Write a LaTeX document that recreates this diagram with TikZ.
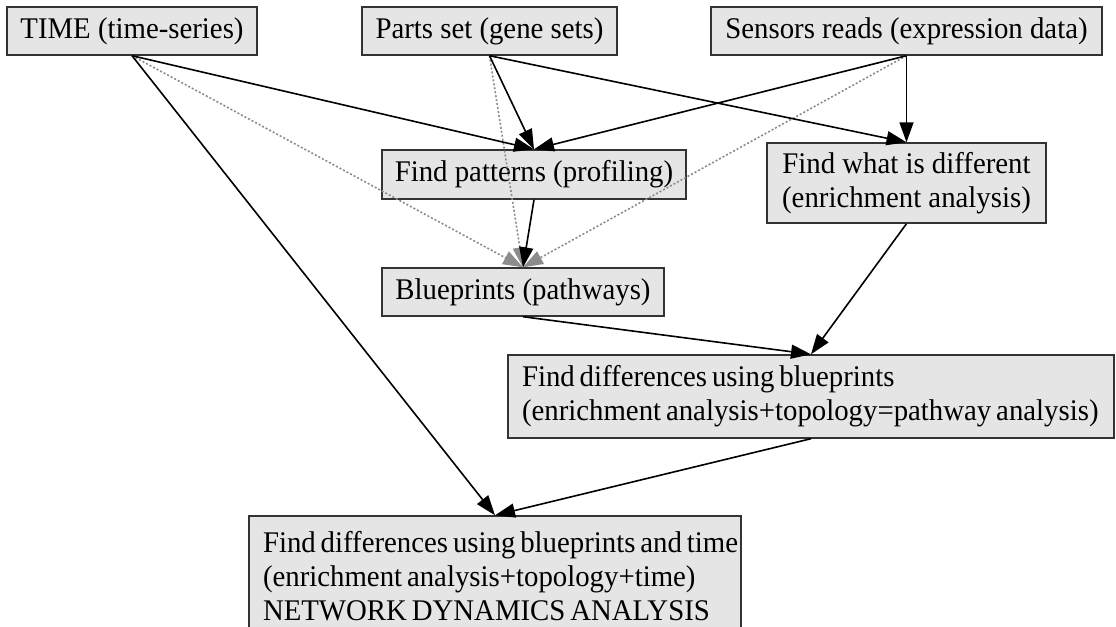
\documentclass[tikz,border=0pt]{standalone}
\usepackage{fontspec}
\setmainfont{Liberation Serif}[FakeStretch=0.96]
\usetikzlibrary{arrows.meta}
\definecolor{boxfill}{HTML}{E5E5E5}
\definecolor{hintgray}{HTML}{8C8C8C}
% one left-aligned line with tight word spacing
\newcommand{\tightline}[1]{\mbox{\spaceskip=2.45pt\relax #1}}
\begin{document}
\begin{tikzpicture}[x=0.5pt,y=-0.5pt,
  box/.style={draw=black!80, fill=boxfill, line width=0.7pt, inner sep=0pt,
    font=\fontsize{15}{17}\selectfont},
  link/.style={-{Triangle[length=10pt,width=7pt]}, line width=0.8pt, draw=black},
  hint/.style={link, draw=hintgray, dash pattern=on 1pt off 1pt}]
\path[clip] (0,0) rectangle (1116,627);

% sources
\node[box, minimum width=125pt, minimum height=24pt] (time) at (132,31) {TIME (time-series)};
\node[box, minimum width=127.5pt, minimum height=24pt] (parts) at (489.5,31) {Parts set (gene sets)};
\node[box, minimum width=195.5pt, minimum height=24pt] (sensors) at (906.5,31) {Sensors reads (expression data)};

% analyses
\node[box, minimum width=152pt, minimum height=24.5pt] (pat) at (534,174.5) {Find patterns (profiling)};
\node[box, minimum width=139.5pt, minimum height=40pt, align=center] (diff) at (906.5,183)
  {Find what is different\\(enrichment analysis)};
\node[box, minimum width=141pt, minimum height=24pt] (blue) at (523,292) {Blueprints (pathways)};
\node[box, minimum width=303pt, minimum height=41.5pt, align=left, text width=289pt] (fdb) at (811,396.5)
  {\tightline{Find differences using blueprints}\\\tightline{(enrichment analysis+topology=pathway analysis)}};
\node[box, minimum width=246pt, minimum height=60pt, align=left, text width=232pt] (final) at (495,576)
  {\tightline{Find differences using blueprints and time}\\\tightline{(enrichment analysis+topology+time)}\\\tightline{NETWORK DYNAMICS ANALYSIS}};

% implicit inputs to the pathways
\draw[hint] (time.south) -- (blue.north);
\draw[hint] (parts.south) -- (blue.north);
\draw[hint] (sensors.south) -- (blue.north);

% data flow
\draw[link] (time.south) -- (pat.north);
\draw[link] (time.south) -- (final.north);
\draw[link] (parts.south) -- (pat.north);
\draw[link] (parts.south) -- (diff.north);
\draw[link] (sensors.south) -- (pat.north);
\draw[link] (sensors.south) -- (diff.north);
\draw[link] (pat.south) -- (blue.north);
\draw[link] (blue.south) -- (fdb.north);
\draw[link] (diff.south) -- (fdb.north);
\draw[link] (fdb.south) -- (final.north);
\end{tikzpicture}
\end{document}
